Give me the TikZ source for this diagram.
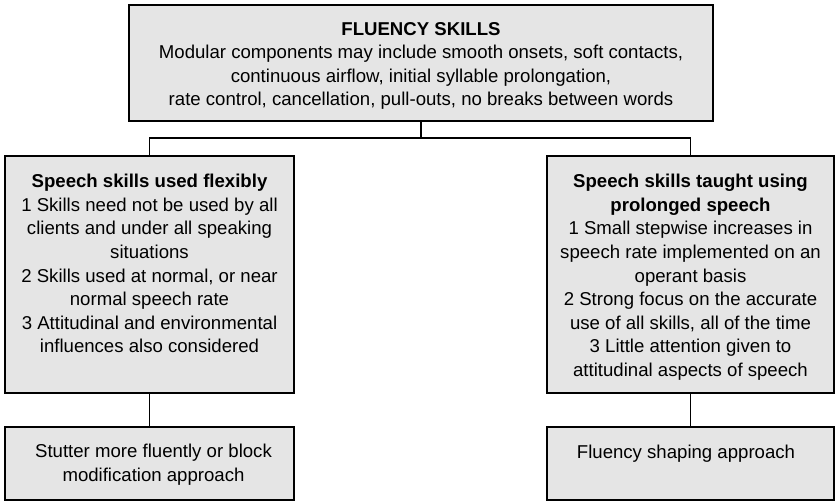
\documentclass[tikz,border=0pt]{standalone}
\usepackage{fontspec}
\setmainfont{Liberation Sans}

\begin{document}
\begin{tikzpicture}[x=1pt,y=1pt,yscale=-1,xscale=1,
  box/.style={draw=black, line width=1.3pt, fill=black!10, inner sep=0pt},
  txt/.style={anchor=north, inner sep=0pt, align=center, font=\fontsize{18.6}{23.6}\selectfont},
  link/.style={draw=black, line width=1.3pt}]
\useasboundingbox (0,0) rectangle (835,502);

%Shape: Box [fluency skills]
\node[box, minimum width=584pt, minimum height=116pt] (skills) at (421,63) {};
%Shape: Box [used flexibly]
\node[box, minimum width=289pt, minimum height=237pt] (flexible) at (149.5,274.5) {};
%Shape: Box [prolonged speech]
\node[box, minimum width=287pt, minimum height=237pt] (prolonged) at (690.5,274.5) {};
%Shape: Box [stutter more fluently]
\node[box, minimum width=289pt, minimum height=73pt] (stutter) at (149.5,463.5) {};
%Shape: Box [fluency shaping]
\node[box, minimum width=287pt, minimum height=73pt] (shaping) at (690.5,463.5) {};

%Straight Lines
\coordinate (branch) at (421,138);
\draw[link] (skills.south) -- (branch);
\draw[link] (flexible.north) |- (branch) -| (prolonged.north);
\draw[link] (flexible.south) -- (stutter.north);
\draw[link] (prolonged.south) -- (shaping.north);

% Text Node
\node[txt] (skillstext) at (421,22) {\textbf{FLUENCY SKILLS}\\
  Modular components may include smooth onsets, soft contacts,\\
  continuous airflow, initial syllable prolongation,\\
  rate control, cancellation, pull-outs, no breaks between words};
% Text Node
\node[txt] (flexibletext) at (149.5,174) {\textbf{Speech skills used flexibly}\\
  1 Skills need not be used by all\\
  clients and under all speaking\\
  situations\\
  2 Skills used at normal, or near\\
  normal speech rate\\
  3 Attitudinal and environmental\\
  influences also considered};
% Text Node
\node[txt] (prolongedtext) at (690.5,174) {\textbf{Speech skills taught using}\\
  \textbf{prolonged speech}\\
  1 Small stepwise increases in\\
  speech rate implemented on an\\
  operant basis\\
  2 Strong focus on the accurate\\
  use of all skills, all of the time\\
  3 Little attention given to\\
  attitudinal aspects of speech};
% Text Node
\node[txt] (stuttertext) at (153.5,444) {Stutter more fluently or block\\
  modification approach};
% Text Node
\node[txt] (shapingtext) at (686,445) {Fluency shaping approach};
\end{tikzpicture}
\end{document}
